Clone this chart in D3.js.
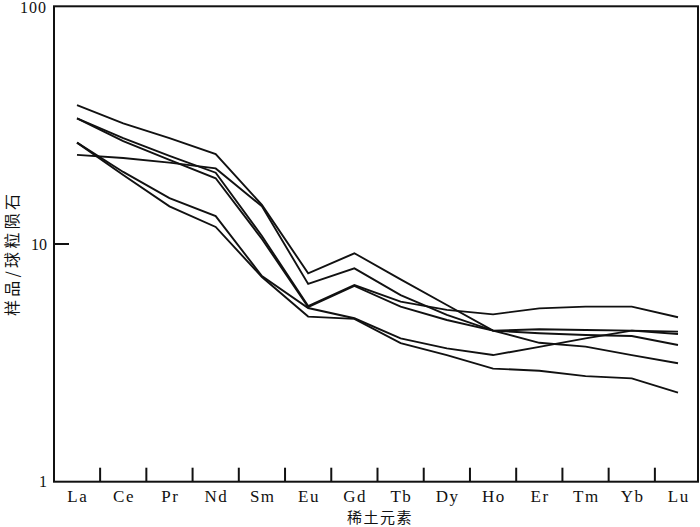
<!DOCTYPE html>
<html>
<head>
<meta charset="utf-8">
<script src="https://cdn.jsdelivr.net/npm/d3@7/dist/d3.min.js"></script>
<style>
  html, body { margin: 0; padding: 0; background: #fff; }
  svg { display: block; }
</style>
</head>
<body>
<svg id="chart" width="700" height="527"></svg>
<script>
// ---- data ----
const categories = ["La","Ce","Pr","Nd","Sm","Eu","Gd","Tb","Dy","Ho","Er","Tm","Yb","Lu"];
const sampleA  = [38.4, 32.2, 27.9, 23.9, 14.6, 7.53, 9.14, 7.10, 5.54, 4.32, 3.84, 3.70, 3.41, 3.15];
const sampleB1 = [33.8, 27.9, 23.5, 19.95, 10.8, 5.48, 6.72, 5.72, 5.28, 5.06, 5.36, 5.45, 5.45, 4.92];
const sampleB2 = [33.8, 27.1, 22.6, 18.9, 10.5, 5.43, 6.66, 5.45, 4.79, 4.32, 4.21, 4.14, 4.10, 3.76];
const sampleC  = [23.7, 23.0, 22.0, 20.8, 14.4, 6.79, 7.90, 6.10, 5.03, 4.32, 4.38, 4.35, 4.32, 4.28];
const sampleD1 = [26.7, 20.1, 15.6, 13.1, 7.33, 5.38, 4.87, 4.01, 3.64, 3.41, 3.69, 4.01, 4.32, 4.18];
const sampleD2 = [26.7, 19.5, 14.4, 11.8, 7.26, 4.95, 4.84, 3.83, 3.41, 2.99, 2.93, 2.78, 2.72, 2.37];
const seriesList = [sampleA, sampleB1, sampleB2, sampleC, sampleD1, sampleD2];
const yTickValues = [1, 10, 100];
const yTickLabels = ["1", "10", "100"];
const xTitle = "稀土元素";
const yTitle = "样品/球粒陨石";

// ---- layout ----
const frame = { left: 54, right: 698, top: 6.3, bottom: 481.7 };
const svg = d3.select("#chart");

const x = d3.scalePoint().domain(categories).range([77, 678]);
const y = d3.scaleLog().domain([1, 100]).range([frame.bottom, frame.top]);

const serif = "'Liberation Serif', 'Times New Roman', serif";
const cjk = "'Noto Sans CJK SC', sans-serif";

// lines
const line = d3.line()
  .x((d, i) => x(categories[i]))
  .y(d => y(d));

svg.append("g")
  .selectAll("path")
  .data(seriesList)
  .join("path")
  .attr("d", d => line(d))
  .attr("fill", "none")
  .attr("stroke", "#111")
  .attr("stroke-width", 1.9)
  .attr("stroke-linejoin", "miter");

// frame
svg.append("rect")
  .attr("x", frame.left)
  .attr("y", frame.top)
  .attr("width", frame.right - frame.left)
  .attr("height", frame.bottom - frame.top)
  .attr("fill", "none")
  .attr("stroke", "#111")
  .attr("stroke-width", 2);

// x ticks (inward, at boundaries between categories)
const step = x.step();
const boundaries = categories.slice(0, -1).map(c => x(c) + step / 2);
svg.append("g")
  .selectAll("line")
  .data(boundaries)
  .join("line")
  .attr("x1", d => d).attr("x2", d => d)
  .attr("y1", frame.bottom).attr("y2", frame.bottom - 14)
  .attr("stroke", "#111")
  .attr("stroke-width", 2);

// x labels
svg.append("g")
  .selectAll("text")
  .data(categories)
  .join("text")
  .attr("x", d => x(d) + 0.8)
  .attr("y", 502)
  .attr("text-anchor", "middle")
  .attr("font-family", serif)
  .attr("font-size", 17)
  .attr("letter-spacing", 1.5)
  .attr("fill", "#111")
  .text(d => d);

// y ticks (inward) for the middle decade
svg.append("g")
  .selectAll("line")
  .data(yTickValues.filter(v => v !== 1 && v !== 100))
  .join("line")
  .attr("x1", frame.left).attr("x2", frame.left + 15)
  .attr("y1", d => y(d)).attr("y2", d => y(d))
  .attr("stroke", "#111")
  .attr("stroke-width", 2);

// y labels
svg.append("g")
  .selectAll("text")
  .data(yTickValues)
  .join("text")
  .attr("x", 47)
  .attr("y", d => Math.max(y(d), 7))
  .attr("dy", "0.35em")
  .attr("text-anchor", "end")
  .attr("font-family", serif)
  .attr("font-size", 16)
  .attr("letter-spacing", (d, i) => yTickLabels[i].length > 2 ? 1 : 0)
  .attr("fill", "#111")
  .text((d, i) => yTickLabels[i]);

// axis titles
svg.append("text")
  .attr("x", 380)
  .attr("y", 516)
  .attr("dominant-baseline", "central")
  .attr("text-anchor", "middle")
  .attr("font-family", cjk)
  .attr("font-size", 15)
  .attr("letter-spacing", 1.5)
  .attr("fill", "#111")
  .text(xTitle);

svg.append("text")
  .attr("transform", "translate(11,255) rotate(-90)")
  .attr("dominant-baseline", "central")
  .attr("text-anchor", "middle")
  .attr("font-family", cjk)
  .attr("font-size", 16)
  .attr("textLength", 122)
  .attr("lengthAdjust", "spacing")
  .attr("fill", "#111")
  .text(yTitle);
</script>
</body>
</html>
